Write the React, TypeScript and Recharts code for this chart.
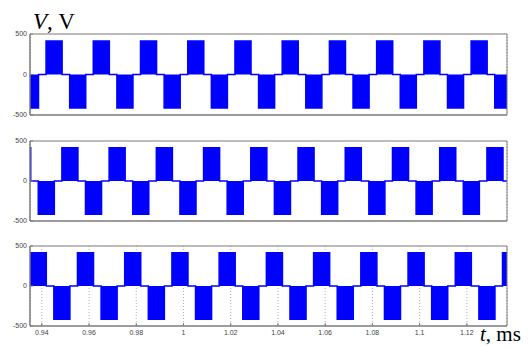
import { AreaChart, Area, XAxis, YAxis, CartesianGrid, ReferenceArea } from 'recharts'

// time window and tick labels (ms)
const T_MIN = 0.935
const T_MAX = 1.137
const xTicks = [0.94, 0.96, 0.98, 1.0, 1.02, 1.04, 1.06, 1.08, 1.1, 1.12]
const yTicks = [-500, 0, 500]

// pulse height (V) and pulse length (ms)
const AMP = 415
const PULSE = 0.0068

// start times of the positive / negative blocks for each phase
const posA = [0.9418, 0.9618, 0.9818, 1.0018, 1.0218, 1.0418, 1.0618, 1.0818, 1.1018, 1.1218]
const negA = [0.9318, 0.9518, 0.9718, 0.9918, 1.0118, 1.0318, 1.0518, 1.0718, 1.0918, 1.1118, 1.1318]

const posB = [0.9285, 0.9485, 0.9685, 0.9885, 1.0085, 1.0285, 1.0485, 1.0685, 1.0885, 1.1085, 1.1285]
const negB = [0.9385, 0.9585, 0.9785, 0.9985, 1.0185, 1.0385, 1.0585, 1.0785, 1.0985, 1.1185]

const posC = [0.9351, 0.9551, 0.9751, 0.9951, 1.0151, 1.0351, 1.0551, 1.0751, 1.0951, 1.1151, 1.1351]
const negC = [0.9451, 0.9651, 0.9851, 1.0051, 1.0251, 1.0451, 1.0651, 1.0851, 1.1051, 1.1251]

type Pt = { t: number; v: number }

function buildSteps(pos: number[], neg: number[]): Pt[] {
  const iv = [...pos.map(s => [s, AMP]), ...neg.map(s => [s, -AMP])].sort((a, b) => a[0] - b[0])
  let startLevel = 0
  for (const [s, v] of iv) if (s <= T_MIN && s + PULSE > T_MIN) startLevel = v
  const pts: Pt[] = [{ t: T_MIN, v: startLevel }]
  for (const [s, v] of iv) {
    const e = s + PULSE
    if (e <= T_MIN || s >= T_MAX) continue
    if (s > T_MIN) pts.push({ t: s, v })
    if (e < T_MAX) pts.push({ t: e, v: 0 })
  }
  pts.push({ t: T_MAX, v: pts[pts.length - 1].v })
  return pts
}

const dataA = buildSteps(posA, negA)
const dataB = buildSteps(posB, negB)
const dataC = buildSteps(posC, negC)

const axisColor = '#7a7a7a'
const tickFont = { fontSize: 7, fill: '#444', fontFamily: 'Arial, "Liberation Sans", sans-serif' }
const serif = '"Times New Roman", "Liberation Serif", serif'

function fmtT(v: number) {
  return String(Number(v.toFixed(2)))
}

function Panel({ data, top, plotH, labels }: { data: Pt[]; top: number; plotH: number; labels: boolean }) {
  const bottomH = labels ? 20 : 5
  return (
    <div style={{ position: 'absolute', left: 0, top }}>
      <AreaChart
        width={529}
        height={5 + plotH + bottomH}
        data={data}
        margin={{ top: 5, right: 22, bottom: 0, left: 0 }}
      >
        <CartesianGrid horizontal={false} stroke="#b0b0b0" strokeDasharray="1 2" />
        <XAxis
          dataKey="t"
          type="number"
          domain={[T_MIN, T_MAX]}
          allowDataOverflow
          ticks={xTicks}
          tickFormatter={fmtT}
          height={bottomH}
          axisLine={{ stroke: axisColor }}
          tickLine={{ stroke: axisColor }}
          tickSize={-3}
          tickMargin={7}
          tick={labels ? tickFont : false}
          interval={0}
        />
        <XAxis
          xAxisId="top"
          orientation="top"
          dataKey="t"
          type="number"
          domain={[T_MIN, T_MAX]}
          allowDataOverflow
          ticks={xTicks}
          height={0}
          axisLine={{ stroke: axisColor }}
          tickLine={{ stroke: axisColor }}
          tickSize={-3}
          tick={false}
        />
        <YAxis
          domain={[-500, 500]}
          ticks={yTicks}
          width={30}
          axisLine={{ stroke: axisColor }}
          tickLine={{ stroke: axisColor }}
          tickSize={-3}
          tickMargin={6}
          tick={tickFont}
          interval={0}
        />
        <YAxis
          yAxisId="right"
          orientation="right"
          domain={[-500, 500]}
          ticks={yTicks}
          width={0}
          axisLine={{ stroke: axisColor }}
          tickLine={{ stroke: axisColor }}
          tickSize={-3}
          tick={false}
        />
        <Area
          type="stepAfter"
          dataKey="v"
          stroke="#0000ff"
          strokeWidth={1.5}
          fill="#0000ff"
          fillOpacity={1}
          dot={false}
          activeDot={false}
          isAnimationActive={false}
        />
        <ReferenceArea
          x1={T_MIN}
          x2={T_MAX}
          y1={-500}
          y2={500}
          fill="none"
          fillOpacity={0}
          stroke={axisColor}
          strokeWidth={1}
          ifOverflow="visible"
        />
      </AreaChart>
    </div>
  )
}

export default function App() {
  return (
    <div style={{ position: 'absolute', left: 0, top: 0, width: 529, height: 347, background: '#fff' }}>
      <Panel data={dataA} top={29} plotH={81} labels={false} />
      <Panel data={dataB} top={136} plotH={80} labels={false} />
      <Panel data={dataC} top={241} plotH={80} labels />
      <svg
        width={529}
        height={347}
        style={{ position: 'absolute', left: 0, top: 0, pointerEvents: 'none' }}
      >
        <text x={33} y={29} fontSize={23} fontFamily={serif} fill="#000">
          <tspan fontStyle="italic">V</tspan>
          <tspan>, V</tspan>
        </text>
        <text x={480} y={341} fontSize={21} fontFamily={serif} fill="#000">
          <tspan fontStyle="italic">t</tspan>
          <tspan>, ms</tspan>
        </text>
      </svg>
    </div>
  )
}
